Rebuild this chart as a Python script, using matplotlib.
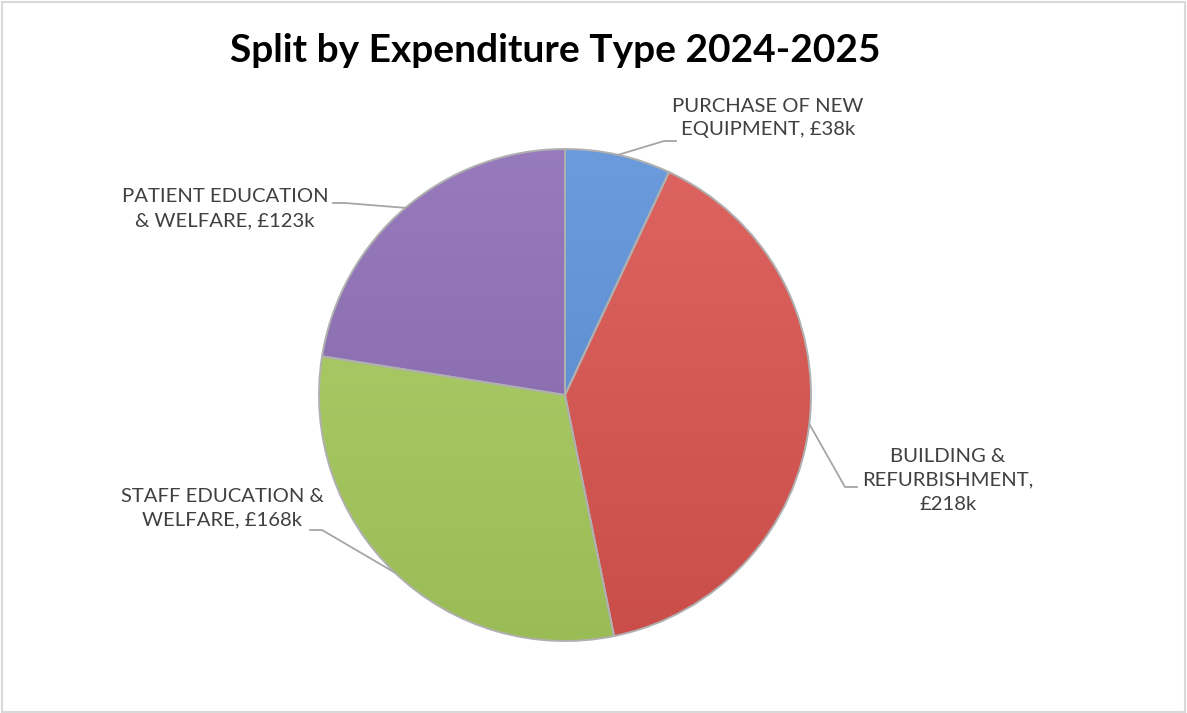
import matplotlib.pyplot as plt
import matplotlib.colors as mcolors
import numpy as np

label_text = ['PURCHASE OF NEW\nEQUIPMENT, £38k', 'BUILDING &\nREFURBISHMENT,\n£218k',
              'STAFF EDUCATION &\nWELFARE, £168k', 'PATIENT EDUCATION\n& WELFARE, £123k']
values = [38, 218, 168, 123]
colors = ['#5b90d8', '#d9534f', '#a6ca5c', '#8b6cb4']

# label positions in pixels (x, y from top) and elbow points for the leader lines
label_pos = [(768, 118), (948, 480), (222, 508), (225, 209)]
elbow_pos = [(664, 141), (845, 487), (322, 530), (345, 203)]

W, H = 1187, 713
plt.rcParams['font.family'] = ['Lato', 'DejaVu Sans']

fig = plt.figure(figsize=(W / 100, H / 100), dpi=100)
ax = fig.add_axes([0, 0, 1, 1])

cx, cy, r = 565, H - 395, 246
wedges, _ = ax.pie(values, colors=colors, startangle=90, counterclock=False,
                   center=(cx, cy), radius=r, frame=True,
                   wedgeprops=dict(edgecolor='#b0b0b0', linewidth=1.4))
ax.set_xlim(0, W)
ax.set_ylim(0, H)
ax.set_aspect('equal')
ax.axis('off')

# vertical shading on each slice: lighter at the top, darker at the bottom
t = np.linspace(0, 1, 256)[:, None]
for w, c in zip(wedges, colors):
    base = np.array(mcolors.to_rgb(c))
    light = base + (1 - base) * 0.10
    dark = base * 0.93
    grad = light * (1 - t[..., None]) + dark * t[..., None]
    grad = np.repeat(grad, 2, axis=1)
    im = ax.imshow(grad, extent=(cx - r, cx + r, cy - r, cy + r), origin='upper',
                   aspect='auto', zorder=w.get_zorder() + 0.1, interpolation='bilinear')
    im.set_clip_path(w)
    w.set_zorder(w.get_zorder() + 0.2)
    w.set_facecolor('none')

for w, (lx, ly), (ex, ey), txt in zip(wedges, label_pos, elbow_pos, label_text):
    ang = np.deg2rad((w.theta1 + w.theta2) / 2)
    px, py = cx + r * np.cos(ang), cy + r * np.sin(ang)
    hx = ex + (-12 if ex < cx else 12)
    ax.plot([px, ex, hx], [py, H - ey, H - ey], color='#a6a6a6', lw=1.3, zorder=3)
    ax.text(lx, H - ly, txt, ha='center', va='center', fontsize=14.6, color='#404040',
            linespacing=1.5)

ax.text(555, H - 51, 'Split by Expenditure Type 2024-2025', ha='center', va='center',
        fontsize=28, fontweight='bold', color='black')

# chart border
fig.patches.append(plt.Rectangle((2 / W, 1 / H), (W - 4) / W, (H - 3) / H, transform=fig.transFigure,
                                 fill=False, edgecolor='#d9d9d9', lw=1.5))

fig.savefig('out.png', dpi=100)
